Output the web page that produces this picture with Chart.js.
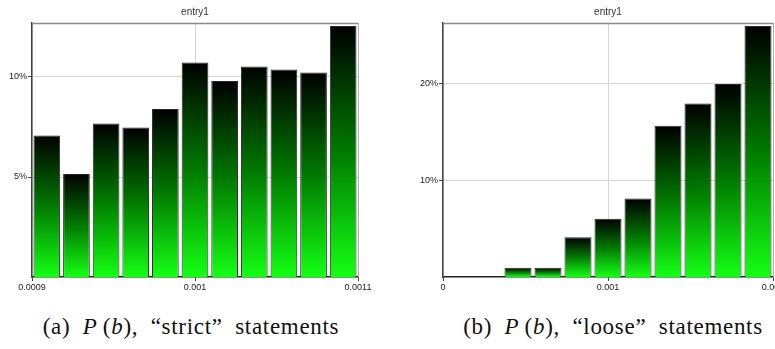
<!DOCTYPE html>
<html>
<head>
<meta charset="utf-8">
<script src="https://cdn.jsdelivr.net/npm/chart.js@4/dist/chart.umd.min.js"></script>
<style>
  html, body { margin: 0; padding: 0; background: #fff; }
  body { width: 775px; height: 349px; overflow: hidden; position: relative; }
  .panel { position: absolute; top: 0; }
  .caption {
    position: absolute; top: 314px; white-space: nowrap;
    font-family: "Liberation Serif", "DejaVu Serif", serif; font-size: 23px; color: #111;
    letter-spacing: 0.7px; word-spacing: 6px;
    transform: translateX(-50%);
  }
  .caption i { font-style: italic; }
</style>
</head>
<body>
<div class="panel" style="left:0"><canvas id="strictChart" width="390" height="300"></canvas></div>
<div class="panel" style="left:390px"><canvas id="looseChart" width="410" height="300"></canvas></div>
<div class="caption" style="left:191px">(a) <i>P</i>&#8201;(<i>b</i>), &#8220;strict&#8221; statements</div>
<div class="caption" style="left:613px">(b) <i>P</i>&#8201;(<i>b</i>), &#8220;loose&#8221; statements</div>

<script>
// histogram bins (11 per panel) and their share in percent
const binLabels = ['1', '2', '3', '4', '5', '6', '7', '8', '9', '10', '11'];
const strictValues = [7.08, 5.15, 7.68, 7.48, 8.4, 10.73, 9.8, 10.52, 10.38, 10.23, 12.55];
const looseValues = [0, 0, 0.96, 0.96, 4.1, 6.0, 8.1, 15.6, 17.9, 19.9, 25.9];

// axis ranges and tick labels
const strictXTicks = [0.0009, 0.001, 0.0011];
const looseXTicks = [0, 0.001, 0.002];
const strictYTicks = [5, 10];
const looseYTicks = [10, 20];
const strictYMax = 12.7;
const looseYMax = 26.2;

const tickFont = { family: 'Liberation Sans, Arial, sans-serif', size: 9 };

// each bar fades from black at its top to bright green at the base
function barGradient(ctx) {
  const chart = ctx.chart;
  if (!chart.chartArea || ctx.type !== 'data') return '#00a000';
  const y = chart.scales.y;
  const top = y.getPixelForValue(ctx.raw);
  const base = y.getPixelForValue(0);
  if (!isFinite(top) || base - top < 1) return '#10ff10';
  const g = chart.ctx.createLinearGradient(0, top, 0, base);
  g.addColorStop(0, '#000000');
  g.addColorStop(0.5, '#007a00');
  g.addColorStop(1, '#14ff14');
  return g;
}

// small title above the plot and the grey frame around it
const framePlugin = {
  id: 'frame',
  afterDraw(chart) {
    const { ctx, chartArea: a } = chart;
    ctx.save();
    ctx.strokeStyle = '#8a8a8a';
    ctx.lineWidth = 1.5;
    ctx.beginPath();
    ctx.moveTo(a.left, a.top + 0.5);
    ctx.lineTo(a.right + 0.5, a.top + 0.5);
    ctx.stroke();
    ctx.strokeStyle = '#b0b0b0';
    ctx.lineWidth = 1;
    ctx.beginPath();
    ctx.moveTo(a.right + 0.5, a.top);
    ctx.lineTo(a.right + 0.5, a.bottom);
    ctx.stroke();
    ctx.fillStyle = '#333';
    ctx.font = '10px Liberation Sans, Arial, sans-serif';
    ctx.textAlign = 'center';
    ctx.textBaseline = 'middle';
    ctx.fillText('entry1', (a.left + a.right) / 2, 12);
    ctx.restore();
  }
};

function fmtX(v) {
  return String(+v.toFixed(4));
}

function makeChart(id, values, xTicks, yTicks, yMax, yWidth, padRight) {
  const ctx = document.getElementById(id);
  return new Chart(ctx, {
    type: 'bar',
    data: {
      labels: binLabels,
      datasets: [{
        data: values,
        backgroundColor: barGradient,
        borderColor: '#2a2a2a',
        borderWidth: 1,
        barPercentage: 0.9,
        categoryPercentage: 1
      }]
    },
    options: {
      responsive: false,
      animation: false,
      layout: { padding: { top: 23, left: 0, right: padRight, bottom: 0 } },
      plugins: { legend: { display: false }, tooltip: { enabled: false } },
      scales: {
        x: { display: false, offset: true },
        xv: {
          type: 'linear',
          position: 'bottom',
          offset: false,
          min: xTicks[0],
          max: xTicks[xTicks.length - 1],
          afterBuildTicks: s => { s.ticks = xTicks.map(v => ({ value: v })); },
          afterFit: s => { s.height = 23; },
          grid: { offset: false, color: '#d4d4d4', tickColor: '#444', tickLength: 4 },
          border: { color: '#222', width: 1.5 },
          ticks: { font: tickFont, color: '#222', padding: 1, maxRotation: 0, callback: fmtX }
        },
        y: {
          min: 0,
          max: yMax,
          afterBuildTicks: s => { s.ticks = yTicks.map(v => ({ value: v })); },
          afterFit: s => { s.width = yWidth; },
          grid: { color: '#d4d4d4', tickColor: '#444', tickLength: 4 },
          border: { color: '#444', width: 1.5 },
          ticks: { font: tickFont, color: '#222', padding: 1, callback: v => v + '%' }
        }
      }
    },
    plugins: [framePlugin]
  });
}

makeChart('strictChart', strictValues, strictXTicks, strictYTicks, strictYMax, 32, 32);
makeChart('looseChart', looseValues, looseXTicks, looseYTicks, looseYMax, 53, 27);
</script>
</body>
</html>
